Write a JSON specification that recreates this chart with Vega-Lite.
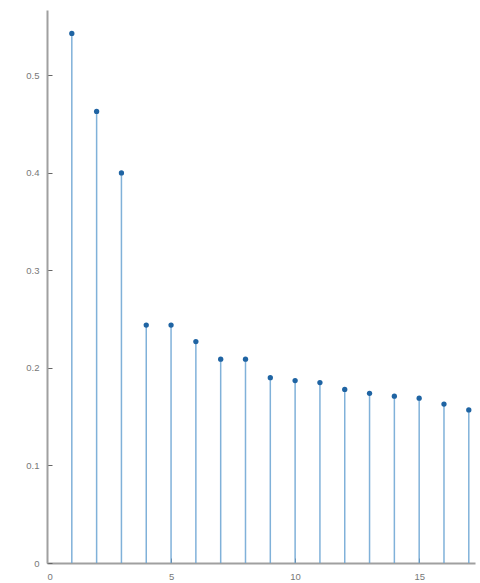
{
  "$schema": "https://vega.github.io/schema/vega-lite/v6.json",
  "autosize": "none",
  "padding": {"left": 47, "top": 10, "right": 5, "bottom": 20},
  "width": 428,
  "height": 553,
  "background": "white",
  "data": {"values": [
    {"k": 1, "v": 0.543}, {"k": 2, "v": 0.463}, {"k": 3, "v": 0.400},
    {"k": 4, "v": 0.244}, {"k": 5, "v": 0.244}, {"k": 6, "v": 0.227},
    {"k": 7, "v": 0.209}, {"k": 8, "v": 0.209}, {"k": 9, "v": 0.190},
    {"k": 10, "v": 0.187}, {"k": 11, "v": 0.185}, {"k": 12, "v": 0.178},
    {"k": 13, "v": 0.174}, {"k": 14, "v": 0.171}, {"k": 15, "v": 0.169},
    {"k": 16, "v": 0.163}, {"k": 17, "v": 0.157}
  ]},
  "config": {
    "view": {"stroke": null},
    "axis": {
      "domainColor": "#a0a0a0", "domainWidth": 2,
      "tickColor": "#666666", "tickSize": -5, "tickWidth": 1,
      "labelColor": "#777777", "labelFont": "Liberation Sans", "labelFontSize": 9.5,
      "grid": false, "title": null
    }
  },
  "encoding": {
    "x": {"field": "k", "type": "quantitative",
      "scale": {"domain": [0, 17.25], "nice": false, "zero": false},
      "axis": {"values": [0, 5, 10, 15], "labelPadding": 13}},
    "y": {"field": "v", "type": "quantitative",
      "scale": {"domain": [0, 0.567], "nice": false},
      "axis": {"values": [0, 0.1, 0.2, 0.3, 0.4, 0.5], "format": ".1~f", "labelPadding": 13}}
  },
  "layer": [
    {"mark": {"type": "rule", "color": "#6aa3d2", "strokeWidth": 1.5, "opacity": 0.85},
     "encoding": {"y2": {"datum": 0}}},
    {"mark": {"type": "point", "filled": true, "color": "#1f64a3", "size": 28, "opacity": 1}}
  ]
}
